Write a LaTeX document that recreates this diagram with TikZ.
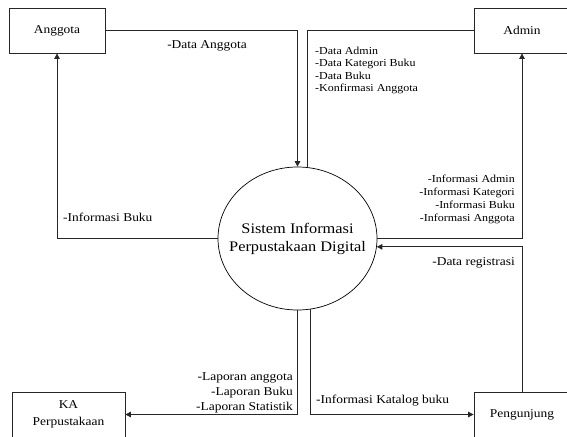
\documentclass[tikz,border=0pt]{standalone}
\usepackage{fontspec}
\setmainfont{Liberation Serif}[FakeStretch=1.12]
\usetikzlibrary{arrows.meta,shapes.geometric}
\tikzset{
  entity/.style={draw=black!85, line width=0.8pt, minimum width=96pt, minimum height=45pt, inner sep=0pt, align=center, font=\fontsize{12}{17}\selectfont},
  proc/.style={draw=black, line width=0.7pt, ellipse, minimum width=159pt, minimum height=143pt, inner xsep=-35pt, inner ysep=0pt, align=center, font=\fontsize{14.6}{18}\selectfont},
  flow/.style={draw=black!85, line width=0.8pt},
  flowarrow/.style={flow, -{Triangle[length=5.5pt,width=5.5pt]}},
  lbl/.style={inner sep=0pt, font=\fontsize{12}{12.5}\selectfont}
}
\begin{document}
\begin{tikzpicture}[x=1pt,y=-1pt]
\useasboundingbox (0,0) rectangle (567,436);
\clip (0,0) rectangle (567,436);
\fill[white] (0,0) rectangle (567,436);
\node[entity] (ang) at (57,30.5) {Anggota};
\node[entity] (adm) at (522,30.5) {Admin};
\node[entity, minimum width=113pt] (ka) at (68.5,414.5) {KA\\Perpustakaan};
\node[entity] (pen) at (522,414.5) {Pengunjung};
\node[proc] (sys) at (297.5,238.5) {Sistem Informasi\\Perpustakaan Digital};

\draw[flowarrow] (ang.east) -| (sys.north);
\draw[flow] (adm.west) -| (sys.82.4);
\draw[flowarrow] (sys.west) -| (ang.south);
\draw[flowarrow] (sys.east) -| (adm.south);
\draw[flowarrow] (pen.north) |- (sys.-6.9);
\draw[flowarrow] (sys.south) |- (ka.east);
\draw[flowarrow] (sys.-80) |- (pen.west);

\node[lbl] (l1) at (207,46) {-Data Anggota};
\node[lbl, anchor=west, align=left, font=\fontsize{10.7}{12.5}\selectfont] (l2) at (315,70.5) {-Data Admin\\-Data Kategori Buku\\-Data Buku\\-Konfirmasi Anggota};
\node[lbl, anchor=west] (l3) at (63,217) {-Informasi Buku};
\node[lbl, anchor=east, align=right, font=\fontsize{10.7}{13}\selectfont] (l4) at (515,199.5) {-Informasi Admin\\-Informasi Kategori\\-Informasi Buku\\-Informasi Anggota};
\node[lbl, anchor=east] (l5) at (515,263) {-Data registrasi};
\node[lbl, anchor=east, align=right, font=\fontsize{12}{15}\selectfont] (l6) at (293,393) {-Laporan anggota\\-Laporan Buku\\-Laporan Statistik};
\node[lbl, anchor=west] (l7) at (316,401) {-Informasi Katalog buku};
\end{tikzpicture}
\end{document}
